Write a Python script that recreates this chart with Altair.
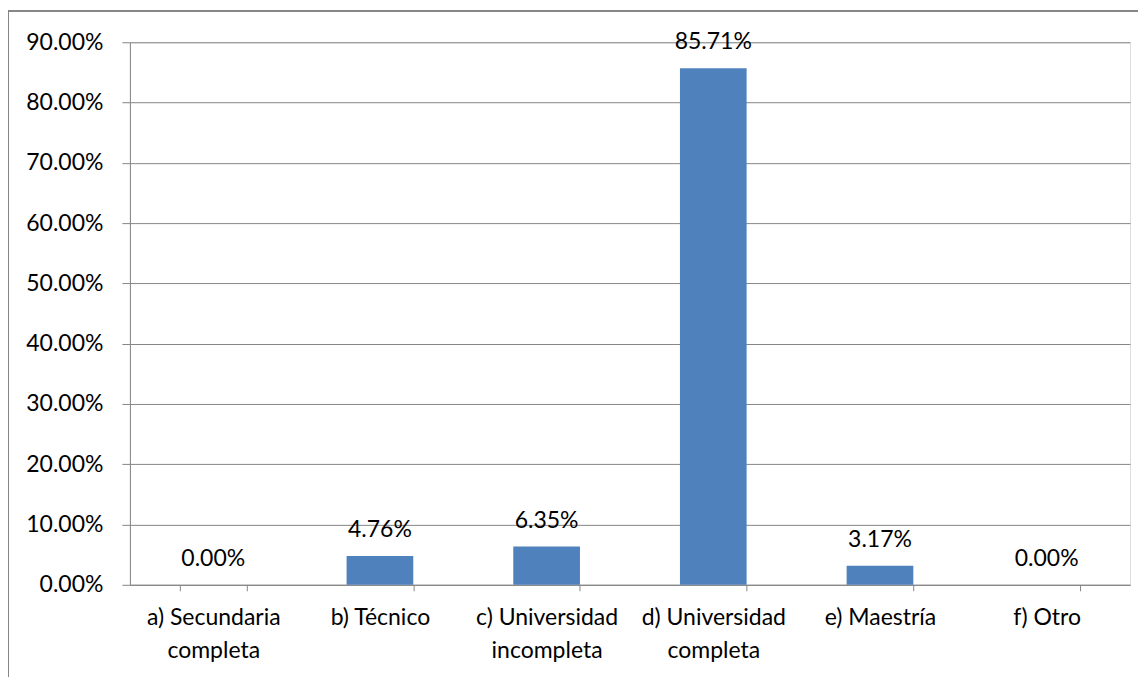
import altair as alt
import pandas as pd

categories = [
    "a) Secundaria completa",
    "b) Técnico",
    "c) Universidad incompleta",
    "d) Universidad completa",
    "e) Maestría",
    "f) Otro",
]
values = [0.0, 0.0476, 0.0635, 0.8571, 0.0317, 0.0]
y_ticks = [0.0, 0.1, 0.2, 0.3, 0.4, 0.5, 0.6, 0.7, 0.8, 0.9]

df = pd.DataFrame({"cat": categories, "val": values})

FONT = "Lato"
FS = 23
GRID = "#868686"

x_enc = alt.X(
    "cat:N",
    sort=categories,
    title=None,
    scale=alt.Scale(paddingInner=0.6, paddingOuter=0.3),
    axis=alt.Axis(
        labelAngle=0,
        tickBand="extent",
        tickSize=6,
        tickColor=GRID,
        domainColor=GRID,
        labelFont=FONT,
        labelFontSize=FS,
        labelColor="black",
        labelBaseline="top",
        labelPadding=16,
        labelLineHeight=33,
        labelLimit=0,
        labelExpr="length(split(datum.label,' '))>2 ? [join(slice(split(datum.label,' '),0,2),' '), join(slice(split(datum.label,' '),2),' ')] : datum.label",
    ),
)

y_enc = alt.Y(
    "val:Q",
    title=None,
    scale=alt.Scale(domain=[0, 0.9], nice=False),
    axis=alt.Axis(
        values=y_ticks,
        format=".2%",
        grid=True,
        gridColor=GRID,
        tickColor=GRID,
        domainColor=GRID,
        tickSize=8,
        labelPadding=19,
        labelFont=FONT,
        labelFontSize=FS,
        labelColor="black",
    ),
)

bars = alt.Chart(df).mark_bar(color="#4F81BD").encode(x=x_enc, y=y_enc)

labels = alt.Chart(df).mark_text(
    baseline="alphabetic", dy=-19, font=FONT, fontSize=FS, color="black"
).encode(
    x=alt.X("cat:N", sort=categories),
    y="val:Q",
    text=alt.Text("val:Q", format=".2%"),
)

border_top = alt.Chart(df).mark_rule(color=GRID, strokeWidth=1.5, clip=False).encode(
    x=alt.value(-122), x2=alt.value(1020), y=alt.value(-31)
)
border_left = alt.Chart(df).mark_rule(color=GRID, strokeWidth=1.5, clip=False).encode(
    x=alt.value(-122), y=alt.value(-31), y2=alt.value(700)
)

chart = (
    alt.layer(border_top, border_left, bars, labels)
    .properties(
        width=1001,
        height=543,
        autosize=alt.AutoSizeParams(type="none"),
        padding={"left": 122, "top": 34, "right": 8, "bottom": 110},
    )
    .configure_view(stroke=None)
    .configure(background="white")
)

chart.save("out.html", embed_options={"renderer": "svg", "actions": False})
